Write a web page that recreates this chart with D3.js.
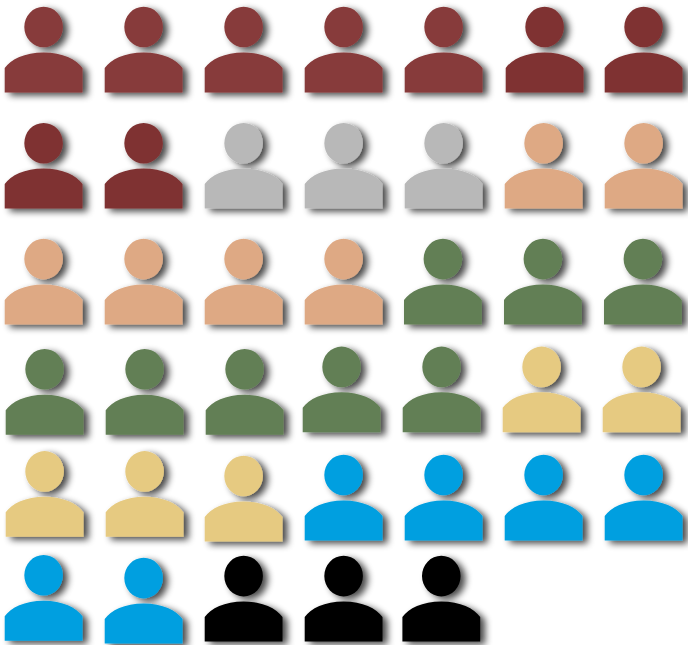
<!DOCTYPE html>
<html><head><meta charset="utf-8">
<script src="https://cdn.jsdelivr.net/npm/d3@7/dist/d3.min.js"></script>
<style>html,body{margin:0;padding:0;background:#fff}svg{display:block}</style>
</head><body><svg id="c" width="688" height="645"></svg>
<script>
const groups = ["A1","A2","B","C","D","E","F","G"];
const counts = [5,4,3,6,8,5,6,3];
const colors = ["#873a3a","#7f3333","#b8b8b8","#dea984","#627f55","#e6ca81","#009fe0","#000000"];
const rowStarts = [0,7,14,21,28,35];
const rowBottoms = [92.4,208.6,324.5,434.7,540.4,641.5];
const colLefts = [4.7,104.7,204.7,304.7,404.7,504.7,604.7];
// placement nudges seen in the picture, keyed by icon index: [dx, dy]
const nudges = {5:[1,0],18:[-.7,0],19:[-.7,0],20:[-.7,0],
  21:[1,0],22:[1,0],23:[1,0],24:[-2,-2.4],25:[-2,-2.4],26:[-2,-2.4],27:[-2,-2.4],
  28:[1,-3.6],29:[1,-3.6],30:[0,1],35:[0,-.8],36:[0,2],39:[-2.3,0]};
const svg = d3.select("#c");
const defs = svg.append("defs");
const f = defs.append("filter").attr("id","s").attr("x","-20%").attr("y","-20%").attr("width","150%").attr("height","150%");
f.append("feGaussianBlur").attr("in","SourceAlpha").attr("stdDeviation",3.8).attr("result","b");
f.append("feOffset").attr("in","b").attr("dx",5).attr("dy",2.5).attr("result","o");
f.append("feComponentTransfer").attr("in","o").attr("result","sh").append("feFuncA").attr("type","linear").attr("slope",.72);
f.append("feGaussianBlur").attr("in","SourceGraphic").attr("stdDeviation",.35).attr("result","g");
const m = f.append("feMerge");
m.append("feMergeNode").attr("in","sh");
m.append("feMergeNode").attr("in","g");
const people = groups.flatMap((g,i)=>d3.range(counts[i]).map(()=>({group:g}))).map((d,i)=>{
  const row = d3.bisectRight(rowStarts,i)-1;
  return {...d,i,row,col:i-rowStarts[row]};
});
const color = d3.scaleOrdinal().domain(groups).range(colors);
const x = d3.scaleOrdinal().domain(d3.range(7)).range(colLefts);
const y = d3.scaleOrdinal().domain(d3.range(6)).range(rowBottoms);
const headD = (()=>{const rx=19.3,ry=20.3,cx=38.9,cy=-65.4;
  return `M${cx-rx},${cy}A${rx},${ry} 0 1,1 ${cx+rx},${cy}A${rx},${ry} 0 1,1 ${cx-rx},${cy}Z`;})();
const bodyD = `M0,0L0,-24.5C6,-33,20,-40,38.9,-40C57.8,-40,71.8,-33,77.8,-24.5L77.8,0Z`;
svg.selectAll("path.p").data(people).join("path").attr("class","p")
 .attr("d",bodyD+headD)
 .attr("fill",d=>color(d.group))
 .attr("filter","url(#s)")
 .attr("transform",d=>{const n=nudges[d.i]||[0,0];return `translate(${x(d.col)+n[0]},${y(d.row)+n[1]})`;});
</script></body></html>
